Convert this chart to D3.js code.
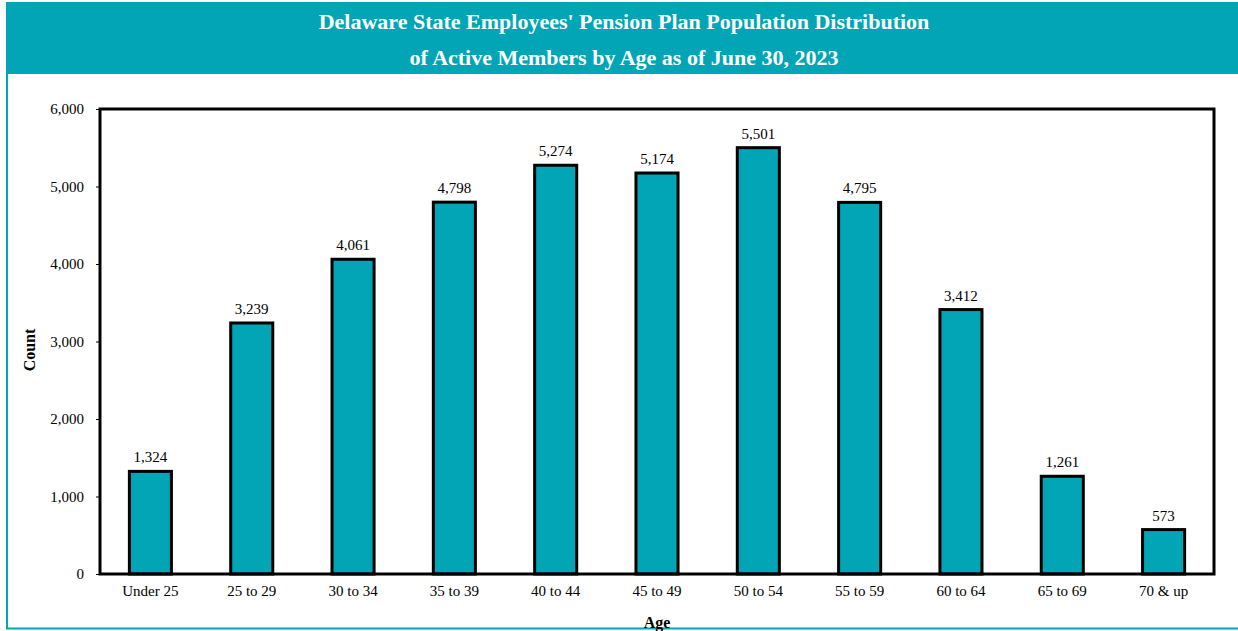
<!DOCTYPE html>
<html>
<head>
<meta charset="utf-8">
<script src="https://cdn.jsdelivr.net/npm/d3@7"></script>
<style>
  body { margin: 0; background: #fff; }
  svg { display: block; font-family: "Times New Roman", "Liberation Serif", serif; }
</style>
</head>
<body>
<script>
// data
var ageGroups = ["Under 25", "25 to 29", "30 to 34", "35 to 39", "40 to 44", "45 to 49",
                 "50 to 54", "55 to 59", "60 to 64", "65 to 69", "70 & up"];
var counts = [1324, 3239, 4061, 4798, 5274, 5174, 5501, 4795, 3412, 1261, 573];
var yTicks = [0, 1000, 2000, 3000, 4000, 5000, 6000];
var titleLines = ["Delaware State Employees' Pension Plan Population Distribution",
                  "of Active Members by Age as of June 30, 2023"];

var w = 1238, h = 631;
var teal = "#01a5b5";

var svg = d3.select("body").append("svg")
    .attr("width", w)
    .attr("height", h);

// outer frame (left + bottom teal rule)
svg.append("line")
    .attr("x1", 7).attr("x2", 7).attr("y1", 2).attr("y2", 629)
    .attr("stroke", teal).attr("stroke-width", 2);
svg.append("line")
    .attr("x1", 6).attr("x2", w).attr("y1", 628.5).attr("y2", 628.5)
    .attr("stroke", teal).attr("stroke-width", 2);

// header band
svg.append("rect")
    .attr("x", 6).attr("y", 2)
    .attr("width", w - 6).attr("height", 72)
    .attr("fill", teal);

svg.selectAll("text.title")
    .data(titleLines)
    .enter().append("text")
    .attr("class", "title")
    .attr("x", 624)
    .attr("y", function (d, i) { return 29 + i * 36; })
    .attr("text-anchor", "middle")
    .attr("fill", "#fff")
    .style("font-size", "22px")
    .style("font-weight", "bold")
    .text(function (d) { return d; });

// plot area
var pLeft = 100, pRight = 1214, pTop = 109, pBottom = 574;

var x = d3.scaleBand()
    .domain(ageGroups)
    .range([pLeft, pRight])
    .paddingInner(0.585)
    .paddingOuter(0.29);

var y = d3.scaleLinear()
    .domain([0, 6000])
    .range([pBottom, pTop]);

var fmt = d3.format(",");

// y axis
var yAxis = svg.append("g")
    .attr("transform", "translate(" + pLeft + ",0)")
    .call(d3.axisLeft(y).tickValues(yTicks).tickSize(4).tickFormat(fmt));
yAxis.select(".domain").remove();
yAxis.selectAll("line").attr("stroke", "#000");
yAxis.selectAll("text")
    .attr("x", -16)
    .style("font-family", "'Times New Roman', 'Liberation Serif', serif")
    .style("font-size", "15px")
    .attr("fill", "#000");

// x axis labels
var xAxis = svg.append("g")
    .attr("transform", "translate(0," + pBottom + ")")
    .call(d3.axisBottom(x).tickSize(0).tickPadding(11));
xAxis.select(".domain").remove();
xAxis.selectAll("text")
    .style("font-family", "'Times New Roman', 'Liberation Serif', serif")
    .style("font-size", "15px")
    .attr("fill", "#000");

// bars
svg.selectAll("rect.bar")
    .data(counts)
    .enter().append("rect")
    .attr("class", "bar")
    .attr("x", function (d, i) { return x(ageGroups[i]); })
    .attr("y", function (d) { return y(d); })
    .attr("width", x.bandwidth())
    .attr("height", function (d) { return pBottom - y(d); })
    .attr("fill", teal)
    .attr("stroke", "#000")
    .attr("stroke-width", 3);

// value labels
svg.selectAll("text.val")
    .data(counts)
    .enter().append("text")
    .attr("class", "val")
    .attr("x", function (d, i) { return x(ageGroups[i]) + x.bandwidth() / 2; })
    .attr("y", function (d) { return y(d) - 9; })
    .attr("text-anchor", "middle")
    .style("font-size", "15px")
    .text(function (d) { return fmt(d); });

// plot frame
svg.append("rect")
    .attr("x", pLeft).attr("y", pTop)
    .attr("width", pRight - pLeft).attr("height", pBottom - pTop)
    .attr("fill", "none")
    .attr("stroke", "#000")
    .attr("stroke-width", 3);

// axis titles
svg.append("text")
    .attr("transform", "translate(35,350) rotate(-90)")
    .attr("text-anchor", "middle")
    .style("font-size", "16px")
    .style("font-weight", "bold")
    .text("Count");

svg.append("text")
    .attr("x", 657)
    .attr("y", 628)
    .attr("text-anchor", "middle")
    .style("font-size", "16px")
    .style("font-weight", "bold")
    .text("Age");
</script>
</body>
</html>
